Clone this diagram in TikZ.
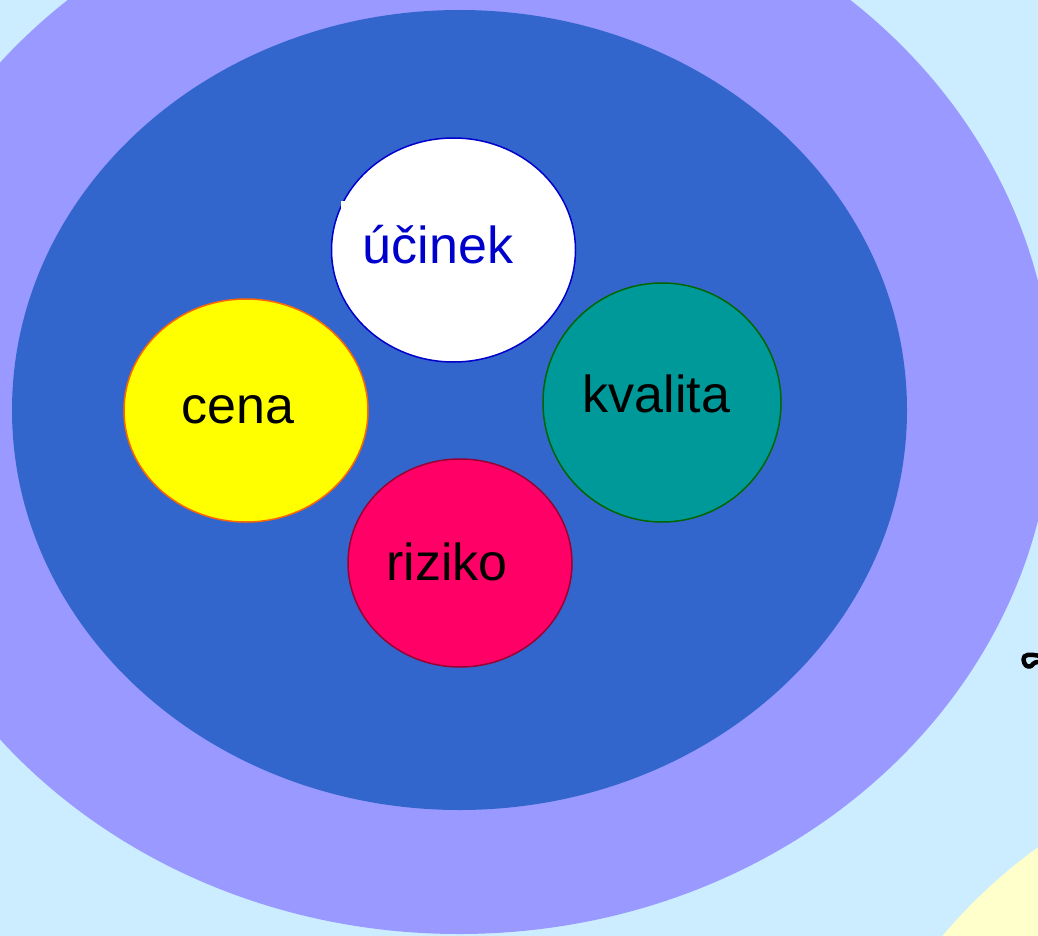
\documentclass[tikz,border=0pt]{standalone}
\usepackage{fontspec}
\setmainfont{Liberation Sans}
\usetikzlibrary{shapes.geometric}
\definecolor{skyback}{HTML}{CCECFF}
\definecolor{creamback}{HTML}{FFFFCC}
\definecolor{lilac}{HTML}{9999FF}
\definecolor{royal}{HTML}{3366CC}
\definecolor{deepblue}{HTML}{0000CC}
\definecolor{sunyellow}{HTML}{FFFF00}
\definecolor{orangeline}{HTML}{FF6600}
\definecolor{teal}{HTML}{009999}
\definecolor{darkgreen}{HTML}{006600}
\definecolor{rosered}{HTML}{FF0066}
\definecolor{winered}{HTML}{990033}
\tikzset{
  blob/.style={ellipse, inner sep=0pt, line width=1.5pt},
  word/.style={anchor=base, inner sep=0pt, font=\fontsize{52}{60}\selectfont},
}
\begin{document}
\begin{tikzpicture}[x=1pt,y=-1pt]
  \useasboundingbox (0,0) rectangle (1038,936);
  \fill[skyback] (0,0) rectangle (1038,936);
  % pale corner area, bottom right
  \begin{scope}
    \clip (0,0) rectangle (1038,936);
    \fill[creamback] (1341,1270) circle[radius=520];
    % outer and inner rings
    \fill[lilac] (459,401) ellipse[x radius=594, y radius=533];
    \fill[royal] (459.5,410) ellipse[x radius=447.5, y radius=400];
  \end{scope}
  % clipped glyph fragment at the right edge
  \begin{scope}
    \clip (0,0) rectangle (1038,936);
    \draw[line width=4.5pt, line cap=round, line join=round]
      (1040,656) .. controls (1030,654) and (1023,654) .. (1023.5,659.5)
      .. controls (1024,665) and (1027,667) .. (1030,666.5)
      .. controls (1033,666) and (1032,661.5) .. (1040,662);
  \end{scope}
  % four factor circles
  \node[blob, draw=deepblue, fill=white, minimum width=244pt, minimum height=224pt] (ucinekC) at (453.5,250) {};
  \fill[white] (340.5,201.5) rectangle (345,208.5);
  \node[blob, draw=orangeline, fill=sunyellow, minimum width=244pt, minimum height=223pt] (cenaC) at (246,410.5) {};
  \node[blob, draw=darkgreen, fill=teal, minimum width=238pt, minimum height=239pt] (kvalitaC) at (662,402.5) {};
  \node[blob, draw=winered, fill=rosered, minimum width=224pt, minimum height=208pt] (rizikoC) at (460,563) {};
  % labels
  \node[word, text=deepblue] (ucinek) at (438,263) {účinek};
  \node[word] (cena) at (238,423) {cena};
  \node[word] (kvalita) at (656.5,412) {kvalita};
  \node[word] (riziko) at (447,580) {riziko};
\end{tikzpicture}
\end{document}
